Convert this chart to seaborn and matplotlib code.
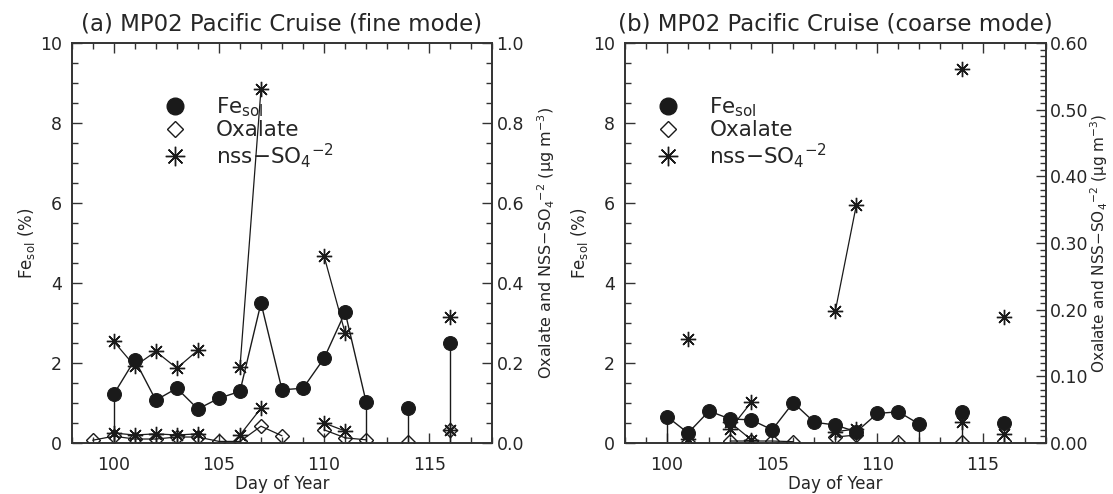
import numpy as np
import pandas as pd
import matplotlib
matplotlib.use("Agg")
import matplotlib.pyplot as plt
import seaborn as sns
from matplotlib.ticker import MultipleLocator, FormatStrFormatter
from matplotlib.lines import Line2D

# ---------------- data: panel (a) fine mode ----------------
fe_days_a = [100, 101, 102, 103, 104, 105, 106, 107, 108, 109, 110, 111, 112, 114, 116]
fe_a = [1.22, 2.08, 1.07, 1.37, 0.85, 1.12, 1.29, 3.50, 1.33, 1.37, 2.12, 3.27, 1.02, 0.87, 2.50]
stem_days_a = [100, 112, 114, 116]

ox_days_a = [99, 100, 101, 102, 103, 104, 105, 106, 107, 108, 110, 111, 112, 114, 116]
ox_a = [0.007, 0.017, 0.010, 0.010, 0.015, 0.015, 0.004, 0.004, 0.042, 0.018, 0.033, 0.013, 0.008, 0.003, 0.032]

so4_days_a = [100, 101, 102, 103, 104, 106, 107, 110, 111, 116]
so4_a = [0.254, 0.192, 0.229, 0.187, 0.232, 0.189, 0.885, 0.467, 0.275, 0.314]
so4_low_a = [0.025, 0.020, 0.023, 0.020, 0.023, 0.020, 0.087, 0.050, 0.030, 0.032]

# ---------------- data: panel (b) coarse mode ----------------
fe_days_b = [100, 101, 102, 103, 104, 105, 106, 107, 108, 109, 110, 111, 112, 114, 116]
fe_b = [0.66, 0.25, 0.80, 0.60, 0.58, 0.33, 1.01, 0.52, 0.45, 0.28, 0.74, 0.78, 0.47, 0.77, 0.51]
stem_days_b = [100, 112, 114]

ox_days_b = [101, 103, 104, 105, 106, 108, 109, 111, 114, 116]
ox_b = [0.001, 0.003, 0.003, 0.003, 0.002, 0.009, 0.012, 0.002, 0.002, 0.003]

so4_days_b = [101, 103, 104, 108, 109, 114, 116]
so4_b = [0.156, 0.021, 0.061, 0.198, 0.357, 0.561, 0.189]
so4_low_b = [0.006, 0.031, 0.005, 0.017, 0.021, 0.032, 0.013]

titles = ["(a) MP02 Pacific Cruise (fine mode)", "(b) MP02 Pacific Cruise (coarse mode)"]
right_max = [1.0, 0.6]


def frame(days, vals):
    d = np.asarray(days)
    seg = np.concatenate([[0], np.cumsum(np.diff(d) != 1)])
    return pd.DataFrame({"day": d, "val": vals, "seg": seg})


sns.set_theme(style="ticks")
plt.rcParams["font.family"] = ["DejaVu Sans"]
plt.rcParams["mathtext.default"] = "regular"

fig = plt.figure(figsize=(11.13, 4.94), dpi=100)
positions = [[0.0644, 0.1032, 0.378, 0.8097], [0.5615, 0.1032, 0.378, 0.8097]]

panels = [
    (fe_days_a, fe_a, stem_days_a, ox_days_a, ox_a, so4_days_a, so4_a, so4_low_a),
    (fe_days_b, fe_b, stem_days_b, ox_days_b, ox_b, so4_days_b, so4_b, so4_low_b),
]

star = (8, 2, 0)
legend_x = [0.195, 0.052]
rlabel_pad = [8, 0]
rtick_pad = [3, 3]
rlabel_size = [11.5, 11]

for i, (fd, fv, sd, od, ov, sod, sov, solv) in enumerate(panels):
    ax = fig.add_axes(positions[i])
    ax2 = ax.twinx()

    # Fe_sol on left axis
    sns.lineplot(data=frame(fd, fv), x="day", y="val", units="seg", estimator=None,
                 color="k", lw=1.0, marker="o", markersize=10, markeredgecolor="k",
                 markerfacecolor="k", ax=ax, legend=False)
    fe_map = dict(zip(fd, fv))
    ax.vlines(sd, 0, [fe_map[d] for d in sd], colors="k", lw=1.0)

    # oxalate & sulfate on right axis
    sns.lineplot(data=frame(od, ov), x="day", y="val", units="seg", estimator=None,
                 color="k", lw=0.9, marker="D", markersize=7, markeredgecolor="k",
                 markerfacecolor="none", markeredgewidth=1.0, ax=ax2, legend=False)
    sns.lineplot(data=frame(sod, sov), x="day", y="val", units="seg", estimator=None,
                 color="k", lw=0.9, marker=star, markersize=11, markeredgecolor="k",
                 markeredgewidth=1.0, ax=ax2, legend=False)
    sns.lineplot(data=frame(sod, solv), x="day", y="val", units="seg", estimator=None,
                 color="k", lw=0.9, marker=star, markersize=11, markeredgecolor="k",
                 markeredgewidth=1.0, ax=ax2, legend=False)

    ax.set_xlim(98, 118)
    ax.set_ylim(0, 10)
    ax2.set_ylim(0, right_max[i])
    ax.xaxis.set_major_locator(MultipleLocator(5))
    ax.xaxis.set_minor_locator(MultipleLocator(1))
    ax.yaxis.set_major_locator(MultipleLocator(2))
    ax.yaxis.set_minor_locator(MultipleLocator(0.5))
    if i == 0:
        ax2.yaxis.set_major_locator(MultipleLocator(0.2))
        ax2.yaxis.set_minor_locator(MultipleLocator(0.05))
        ax2.yaxis.set_major_formatter(FormatStrFormatter("%.1f"))
    else:
        ax2.yaxis.set_major_locator(MultipleLocator(0.1))
        ax2.yaxis.set_minor_locator(MultipleLocator(0.01))
        ax2.yaxis.set_major_formatter(FormatStrFormatter("%.2f"))

    ax.tick_params(which="both", direction="in", top=True, right=False, labelsize=12.5,
                   color="#333333")
    ax.tick_params(axis="x", which="major", pad=9)
    ax.tick_params(axis="y", which="major", pad=7)
    ax.tick_params(which="major", length=7, width=1)
    ax.tick_params(which="minor", length=4, width=1)
    ax2.tick_params(which="both", direction="in", labelsize=12.5, color="#333333")
    ax2.tick_params(which="major", length=7, width=1, pad=rtick_pad[i])
    ax2.tick_params(which="minor", length=4, width=1)

    for a in (ax, ax2):
        for s in a.spines.values():
            s.set_visible(True)
            s.set_color("#333333")
            s.set_linewidth(1.2)

    ax.set_xlabel("Day of Year", fontsize=12, labelpad=1)
    ax.set_ylabel("Fe$_{sol}$ (%)", fontsize=12, labelpad=2)
    ax2.set_ylabel("Oxalate and NSS$-$SO$_4$$^{-2}$ ($\\mu$g m$^{-3}$)", fontsize=rlabel_size[i],
                   labelpad=rlabel_pad[i])
    ax.set_title(titles[i], fontsize=16.5, pad=9)

    handles = [
        Line2D([], [], ls="none", marker="o", color="k", markersize=12),
        Line2D([], [], ls="none", marker="D", markerfacecolor="none", markeredgecolor="k",
               markersize=8),
        Line2D([], [], ls="none", marker=star, color="k", markersize=14, markeredgewidth=1.0),
    ]
    labels = ["Fe$_{sol}$", "Oxalate", "nss$-$SO$_4$$^{-2}$"]
    ax2.legend(handles, labels, loc="upper left", bbox_to_anchor=(legend_x[i], 0.895),
               frameon=False, fontsize=15.5, handlelength=1.0, handletextpad=1.4,
               borderpad=0, labelspacing=0.05)

fig.savefig("out.png", dpi=100)
